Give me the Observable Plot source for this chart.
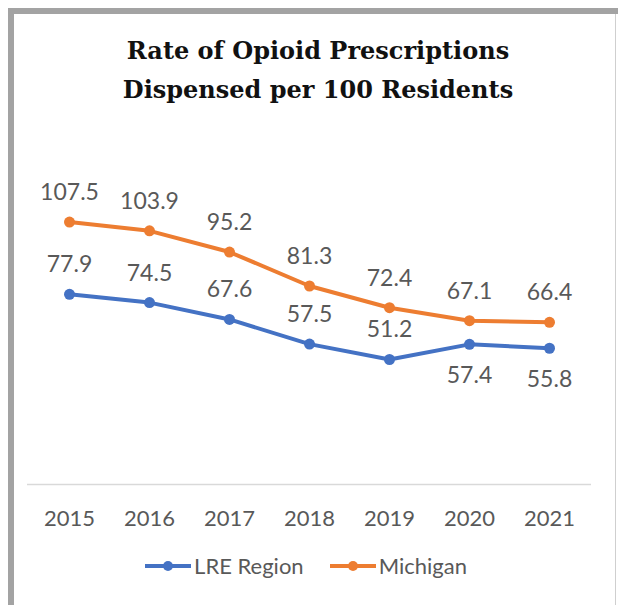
<!DOCTYPE html>
<html>
<head>
<meta charset="utf-8">
<script src="https://cdn.jsdelivr.net/npm/d3@7"></script>
<script src="https://cdn.jsdelivr.net/npm/@observablehq/plot@0.6"></script>
<style>
  html, body { margin: 0; padding: 0; background: #fff; }
  body { width: 618px; height: 605px; position: relative; overflow: hidden; }
  .bar { position: absolute; background: #a3a3a3; }
  #title { position: absolute; left: 0; width: 636px; top: 31px; text-align: center;
    font-family: "DejaVu Serif", serif; font-weight: bold; font-size: 24px; line-height: 39px; color: #111; }
  #chart { position: absolute; left: 0; top: 130px; }
  #legend { position: absolute; left: 0; width: 612px; top: 552px; display: flex; justify-content: center;
    font-family: Lato, sans-serif; font-size: 22px; color: #595959; }
  .item { display: flex; align-items: center; margin: 0 13px; }
  .item svg { margin-right: 3px; }
</style>
</head>
<body>
<div class="bar" style="left:8px;top:8px;width:610px;height:6px"></div>
<div class="bar" style="left:8px;top:8px;width:6px;height:597px"></div>
<div class="bar" style="left:615px;top:14px;width:1px;height:591px;background:#cfcfcf"></div>
<div id="title">Rate of Opioid Prescriptions<br>Dispensed per 100 Residents</div>
<div id="chart"></div>
<div id="legend"></div>
<script>
const years = ["2015", "2016", "2017", "2018", "2019", "2020", "2021"];
const lreRegion = [77.9, 74.5, 67.6, 57.5, 51.2, 57.4, 55.8];
const michigan = [107.5, 103.9, 95.2, 81.3, 72.4, 67.1, 66.4];
const seriesNames = ["LRE Region", "Michigan"];
const seriesColors = ["#4472C4", "#ED7D31"];

const data = [
  ...years.map((y, i) => ({year: y, value: lreRegion[i], series: seriesNames[0], below: i >= 5})),
  ...years.map((y, i) => ({year: y, value: michigan[i], series: seriesNames[1], below: false}))
];

const labelFont = {fontFamily: "Lato, sans-serif", fontSize: 23, fill: "#595959"};

const chart = Plot.plot({
  width: 618,
  height: 420,
  marginLeft: 27,
  marginRight: 27,
  marginTop: 61,
  marginBottom: 66,
  style: {fontFamily: "Lato, sans-serif", background: "transparent", overflow: "visible"},
  x: {type: "band", domain: years, padding: 0, label: null},
  y: {domain: [0, 120], axis: null},
  color: {domain: seriesNames, range: seriesColors},
  marks: [
    Plot.ruleY([0], {stroke: "#d9d9d9", strokeWidth: 1.5}),
    Plot.axisX({tickSize: 0, tickPadding: 26, fontSize: 22, color: "#595959", label: null}),
    Plot.line(data, {x: "year", y: "value", z: "series", stroke: "series", strokeWidth: 4, curve: "linear"}),
    Plot.dot(data, {x: "year", y: "value", fill: "series", r: 5.5}),
    Plot.text(data.filter(d => !d.below), {x: "year", y: "value", text: d => d.value.toFixed(1),
      lineAnchor: "bottom", dy: -22, ...labelFont}),
    Plot.text(data.filter(d => d.below), {x: "year", y: "value", text: d => d.value.toFixed(1),
      lineAnchor: "top", dy: 22, ...labelFont})
  ]
});
document.getElementById("chart").appendChild(chart);

const legend = document.getElementById("legend");
seriesNames.forEach((name, i) => {
  const item = document.createElement("div");
  item.className = "item";
  item.innerHTML = `<svg width="46" height="12"><line x1="0" x2="46" y1="6" y2="6" stroke="${seriesColors[i]}" stroke-width="4"/><circle cx="23" cy="6" r="5" fill="${seriesColors[i]}"/></svg><span>${name}</span>`;
  legend.appendChild(item);
});
</script>
</body>
</html>
